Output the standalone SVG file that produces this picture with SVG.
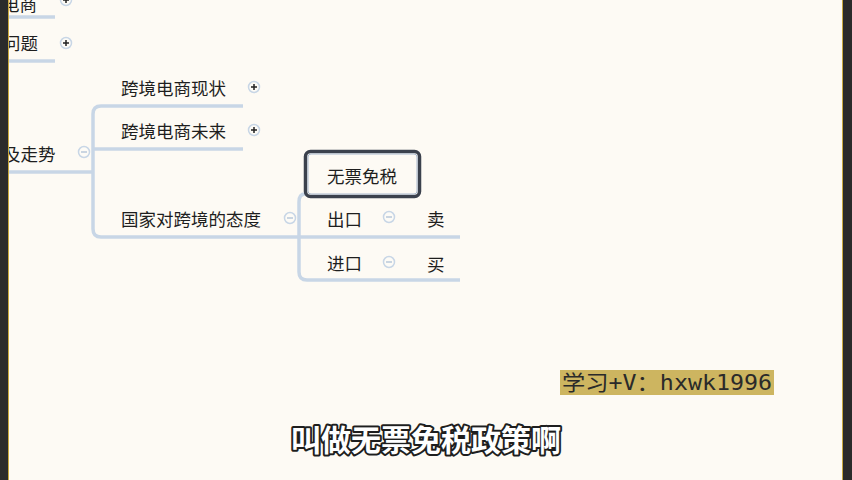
<svg xmlns="http://www.w3.org/2000/svg" width="852" height="480" viewBox="0 0 852 480">
<style>
.t{font-family:"Noto Sans CJK SC","Noto Sans",sans-serif;font-size:17.5px;fill:#1e1e1e}
.ln{fill:none;stroke:#c8d6e6;stroke-width:3.5;stroke-linecap:butt;stroke-linejoin:round}
.ic{fill:#fdfbf6;stroke:#c8d6e6;stroke-width:1.5}
.pl{stroke:#222;stroke-width:1.5}
.mi{stroke:#b8c8da;stroke-width:1.5}
</style>
<rect width="852" height="480" fill="#fdfaf4"/>
<g id="connectors">
<path class="ln" d="M9 17 H55"/>
<path class="ln" d="M9 61 H55"/>
<path class="ln" d="M9 172 H93"/>
<path class="ln" d="M243 106 H101 Q93 106 93 114 V229 Q93 237 101 237 H299"/>
<path class="ln" d="M93 149 H243"/>
<path class="ln" d="M305 194 Q299 194 299 202 V272 Q299 280 307 280 H460"/>
<path class="ln" d="M299 237 H460"/>
</g>
<g id="n-dianshang"><text class="t" x="2" y="11">电商</text>
<circle class="ic" cx="66" cy="0" r="5.5"/><path class="pl" d="M63 0H69M66 -3V3"/></g>
<g id="n-wenti"><text class="t" x="3" y="50">问题</text>
<circle class="ic" cx="66" cy="43" r="5.5"/><path class="pl" d="M63 43H69M66 40V46"/></g>
<g id="n-zoushi"><text class="t" x="3" y="161">及走势</text>
<circle class="ic" cx="84" cy="152" r="5.5"/><path class="mi" d="M81 152H87"/></g>
<g id="n-xianzhuang"><text class="t" x="121" y="95">跨境电商现状</text>
<circle class="ic" cx="254" cy="87" r="5.5"/><path class="pl" d="M251 87H257M254 84V90"/></g>
<g id="n-weilai"><text class="t" x="121" y="138">跨境电商未来</text>
<circle class="ic" cx="254" cy="130" r="5.5"/><path class="pl" d="M251 130H257M254 127V133"/></g>
<g id="n-taidu"><text class="t" x="121" y="226">国家对跨境的态度</text>
<circle class="ic" cx="290" cy="218" r="5.5"/><path class="mi" d="M287 218H293"/></g>
<g id="n-wupiao">
<rect x="305.5" y="151.5" width="114" height="45" rx="5" fill="none" stroke="#3b414d" stroke-width="3.5"/>
<rect x="308" y="154" width="109" height="40" rx="3" fill="none" stroke="#a9b9cf" stroke-width="1"/>
<text class="t" x="327" y="183">无票免税</text></g>
<g id="n-chukou"><text class="t" x="327" y="226">出口</text>
<circle class="ic" cx="389" cy="217" r="5.5"/><path class="mi" d="M386 217H392"/></g>
<g id="n-jinkou"><text class="t" x="327" y="270">进口</text>
<circle class="ic" cx="389" cy="262" r="5.5"/><path class="mi" d="M386 262H392"/></g>
<g id="n-mai4"><text class="t" x="427" y="226">卖</text></g>
<g id="n-mai3"><text class="t" x="427" y="271">买</text></g>
<rect x="560" y="370" width="214" height="25" fill="#cdb560"/>
<text x="562" y="390" textLength="210" lengthAdjust="spacingAndGlyphs" style="font-family:'DejaVu Sans Mono','Noto Sans CJK SC',monospace;font-size:21px;fill:#2a2a2a">学习+V：hxwk1996</text>
<text x="426" y="451" text-anchor="middle" style="font-family:'Noto Sans CJK SC',sans-serif;font-size:30px;font-weight:bold;fill:#ffffff;stroke:#1e1e1e;stroke-width:4;paint-order:stroke;stroke-linejoin:round">叫做无票免税政策啊</text>
<rect x="0" y="0" width="8" height="480" fill="#2b2b2b"/>
<rect x="8" y="0" width="1" height="480" fill="#c9a93e"/>
<rect x="843" y="0" width="9" height="480" fill="#2b2b2b"/>
<rect x="842" y="0" width="1" height="480" fill="#c9a93e"/>
</svg>
